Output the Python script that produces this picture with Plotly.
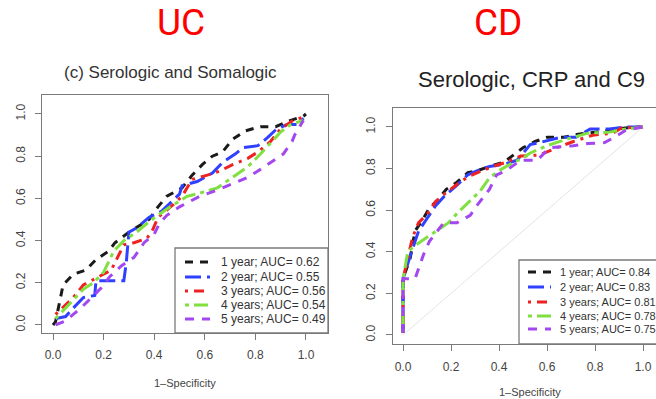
import plotly.graph_objects as go

W, H = 656, 399
FONT = "Liberation Sans, Arial, sans-serif"

# ---------------- data ----------------
series_labels = ["1 year", "2 year", "3 years", "4 years", "5 years"]
uc_auc = ["0.62", "0.55", "0.56", "0.54", "0.49"]
cd_auc = ["0.84", "0.83", "0.81", "0.78", "0.75"]

# UC: Serologic and Somalogic (1-specificity, sensitivity)
uc_1y_x = [0, 0.01, 0.028, 0.04, 0.08, 0.13, 0.17, 0.22, 0.245, 0.30, 0.38, 0.415, 0.45, 0.51, 0.55, 0.59, 0.63, 0.67, 0.71, 0.76, 0.82, 0.88, 0.94, 0.99, 1.0]
uc_1y_y = [0, 0.015, 0.12, 0.19, 0.24, 0.26, 0.31, 0.35, 0.39, 0.44, 0.50, 0.56, 0.61, 0.65, 0.71, 0.76, 0.80, 0.82, 0.88, 0.92, 0.94, 0.94, 0.97, 0.99, 1.0]
uc_2y_x = [0.01, 0.05, 0.08, 0.12, 0.165, 0.17, 0.28, 0.29, 0.30, 0.33, 0.38, 0.43, 0.50, 0.51, 0.57, 0.63, 0.67, 0.72, 0.75, 0.81, 0.85, 0.885, 0.925, 0.965, 0.99]
uc_2y_y = [0.03, 0.04, 0.08, 0.13, 0.14, 0.21, 0.21, 0.30, 0.44, 0.46, 0.51, 0.54, 0.62, 0.66, 0.68, 0.72, 0.77, 0.81, 0.84, 0.85, 0.89, 0.93, 0.95, 0.95, 0.98]
uc_3y_x = [0.01, 0.08, 0.12, 0.18, 0.23, 0.28, 0.32, 0.37, 0.39, 0.415, 0.475, 0.51, 0.55, 0.61, 0.66, 0.71, 0.77, 0.81, 0.86, 0.90, 0.95, 1.0]
uc_3y_y = [0.05, 0.13, 0.19, 0.23, 0.26, 0.38, 0.39, 0.41, 0.44, 0.51, 0.57, 0.61, 0.69, 0.71, 0.73, 0.76, 0.79, 0.82, 0.87, 0.93, 0.97, 0.99]
uc_4y_x = [0.01, 0.075, 0.12, 0.16, 0.20, 0.24, 0.28, 0.33, 0.38, 0.45, 0.50, 0.53, 0.58, 0.65, 0.71, 0.77, 0.82, 0.85, 0.90, 0.94, 0.99]
uc_4y_y = [0.03, 0.11, 0.17, 0.20, 0.25, 0.35, 0.40, 0.44, 0.49, 0.55, 0.59, 0.61, 0.625, 0.65, 0.70, 0.75, 0.81, 0.85, 0.915, 0.95, 0.97]
uc_5y_x = [0.01, 0.05, 0.11, 0.15, 0.19, 0.225, 0.27, 0.32, 0.345, 0.36, 0.40, 0.42, 0.45, 0.50, 0.58, 0.65, 0.71, 0.77, 0.81, 0.86, 0.91, 0.945, 0.955, 0.99]
uc_5y_y = [0.0, 0.02, 0.08, 0.13, 0.175, 0.23, 0.28, 0.32, 0.36, 0.39, 0.43, 0.48, 0.52, 0.56, 0.61, 0.64, 0.67, 0.70, 0.73, 0.77, 0.81, 0.87, 0.90, 0.97]

# CD: Serologic, CRP and C9
cd_1y_x = [0, 0, 0.03, 0.05, 0.08, 0.11, 0.145, 0.18, 0.22, 0.27, 0.31, 0.36, 0.42, 0.455, 0.50, 0.55, 0.60, 0.67, 0.73, 0.80, 0.86, 0.925, 0.99]
cd_1y_y = [0.01, 0.27, 0.37, 0.50, 0.55, 0.61, 0.65, 0.70, 0.73, 0.78, 0.79, 0.81, 0.83, 0.86, 0.90, 0.93, 0.95, 0.95, 0.965, 0.975, 0.985, 0.995, 1.0]
cd_2y_x = [0, 0, 0.03, 0.065, 0.10, 0.135, 0.175, 0.225, 0.27, 0.31, 0.36, 0.42, 0.475, 0.53, 0.57, 0.655, 0.72, 0.78, 0.86, 0.93, 1.0]
cd_2y_y = [0.01, 0.27, 0.38, 0.50, 0.56, 0.62, 0.67, 0.72, 0.77, 0.79, 0.81, 0.82, 0.84, 0.915, 0.925, 0.95, 0.95, 0.99, 0.99, 1.0, 1.0]
cd_3y_x = [0, 0, 0.02, 0.04, 0.065, 0.10, 0.135, 0.175, 0.22, 0.27, 0.32, 0.375, 0.43, 0.49, 0.57, 0.64, 0.71, 0.79, 0.875, 0.91, 1.0]
cd_3y_y = [0.01, 0.27, 0.37, 0.47, 0.54, 0.58, 0.64, 0.68, 0.72, 0.76, 0.785, 0.81, 0.83, 0.86, 0.865, 0.90, 0.93, 0.96, 0.97, 0.995, 1.0]
cd_4y_x = [0, 0, 0.02, 0.05, 0.10, 0.14, 0.19, 0.23, 0.27, 0.32, 0.36, 0.40, 0.46, 0.50, 0.53, 0.60, 0.68, 0.77, 0.86, 0.93, 1.0]
cd_4y_y = [0.01, 0.27, 0.40, 0.43, 0.47, 0.50, 0.54, 0.59, 0.635, 0.69, 0.755, 0.79, 0.83, 0.85, 0.875, 0.91, 0.94, 0.97, 0.975, 0.99, 1.0]
cd_5y_x = [0, 0, 0.05, 0.065, 0.085, 0.11, 0.17, 0.225, 0.28, 0.31, 0.36, 0.39, 0.43, 0.49, 0.56, 0.61, 0.71, 0.77, 0.84, 0.88, 0.93, 1.0]
cd_5y_y = [0.01, 0.27, 0.27, 0.32, 0.385, 0.45, 0.54, 0.54, 0.575, 0.625, 0.70, 0.77, 0.79, 0.84, 0.84, 0.90, 0.91, 0.92, 0.925, 0.95, 0.985, 1.0]

diag_x = [0, 1]
diag_y = [0, 1]

tick_vals = [0.0, 0.2, 0.4, 0.6, 0.8, 1.0]
tick_text = ["0.0", "0.2", "0.4", "0.6", "0.8", "1.0"]

colors = ["#1a1a1a", "#3040ff", "#ee2222", "#7fe040", "#a347f0"]
dashes = ["8px,7px", "16px,6px", "3px,6px,10px,6px", "4px,5px,14px,5px", "9px,8px"]

uc_x = [uc_1y_x, uc_2y_x, uc_3y_x, uc_4y_x, uc_5y_x]
uc_y = [uc_1y_y, uc_2y_y, uc_3y_y, uc_4y_y, uc_5y_y]
cd_x = [cd_1y_x, cd_2y_x, cd_3y_x, cd_4y_x, cd_5y_x]
cd_y = [cd_1y_y, cd_2y_y, cd_3y_y, cd_4y_y, cd_5y_y]


def PX(x):
    return x / W


def PY(y):
    return 1 - y / H


fig = go.Figure()

fig.add_trace(go.Scatter(x=diag_x, y=diag_y, mode="lines", xaxis="x2", yaxis="y2",
                         line=dict(color="#e4e4e4", width=1), showlegend=False, hoverinfo="skip"))

for i in range(5):
    fig.add_trace(go.Scatter(x=uc_x[i], y=uc_y[i], mode="lines", xaxis="x", yaxis="y",
                             line=dict(color=colors[i], width=3, dash=dashes[i]), showlegend=False))
for i in range(5):
    fig.add_trace(go.Scatter(x=cd_x[i], y=cd_y[i], mode="lines", xaxis="x2", yaxis="y2",
                             line=dict(color=colors[i], width=3, dash=dashes[i]), showlegend=False))

axis_common = dict(showgrid=False, zeroline=False, showline=True, linecolor="#7a7a7a", linewidth=1.3,
                   ticks="outside", ticklen=6, tickcolor="#7a7a7a", tickwidth=1.2,
                   tickvals=tick_vals, ticktext=tick_text,
                   tickfont=dict(family=FONT, size=12, color="#444"))

fig.update_layout(
    width=W, height=H, margin=dict(l=0, r=0, t=0, b=0),
    paper_bgcolor="white", plot_bgcolor="white", showlegend=False,
    xaxis=dict(domain=[PX(42), PX(328)], range=[-0.0435, 1.087], anchor="y", mirror=True,
               ticklabelstandoff=4, **axis_common),
    yaxis=dict(domain=[PY(333), PY(95)], range=[-0.038, 1.09], anchor="x", mirror=True,
               tickangle=-90, ticklabelstandoff=5, **axis_common),
    xaxis2=dict(domain=[PX(393), 1.0], range=[-0.0417, 1.054], anchor="y2", mirror=True,
                ticklabelstandoff=5, **axis_common),
    yaxis2=dict(domain=[PY(344), PY(108)], range=[-0.0433, 1.091], anchor="x2", mirror=False,
                tickangle=-90, ticklabelstandoff=6, **axis_common),
)

shapes = []
annotations = []

# legend boxes
shapes.append(dict(type="rect", xref="paper", yref="paper", x0=PX(175), x1=PX(328), y0=PY(333), y1=PY(248),
                   line=dict(color="#7a7a7a", width=1.3), fillcolor="white", layer="above"))
shapes.append(dict(type="rect", xref="paper", yref="paper", x0=PX(519), x1=PX(720), y0=PY(344), y1=PY(260),
                   line=dict(color="#7a7a7a", width=1.3), fillcolor="white", layer="above"))

uc_rows = [262, 277, 291, 305, 319]
cd_rows = [272, 287, 302, 316, 329]
for i in range(5):
    shapes.append(dict(type="line", xref="paper", yref="paper", x0=PX(185), x1=PX(210), y0=PY(uc_rows[i]), y1=PY(uc_rows[i]),
                       line=dict(color=colors[i], width=3, dash=dashes[i]), layer="above"))
    annotations.append(dict(xref="paper", yref="paper", x=PX(219), y=PY(uc_rows[i]), xanchor="left", yanchor="middle",
                            text=f"{series_labels[i]}; AUC= {uc_auc[i]}", showarrow=False,
                            font=dict(family=FONT, size=12, color="#333")))
    shapes.append(dict(type="line", xref="paper", yref="paper", x0=PX(528), x1=PX(551), y0=PY(cd_rows[i]), y1=PY(cd_rows[i]),
                       line=dict(color=colors[i], width=3, dash=dashes[i]), layer="above"))
    annotations.append(dict(xref="paper", yref="paper", x=PX(558), y=PY(cd_rows[i]), xanchor="left", yanchor="middle",
                            text=f"{series_labels[i]}; AUC= {cd_auc[i]}", showarrow=False,
                            font=dict(family=FONT, size=11, color="#333")))

# titles
annotations += [
    dict(xref="paper", yref="paper", x=PX(181), y=PY(22), text="UC", showarrow=False, xanchor="center", yanchor="middle",
         font=dict(family="Roboto, sans-serif", size=37, color="#ff0000")),
    dict(xref="paper", yref="paper", x=PX(498), y=PY(22), text="CD", showarrow=False, xanchor="center", yanchor="middle",
         font=dict(family="Roboto, sans-serif", size=37, color="#ff0000")),
    dict(xref="paper", yref="paper", x=PX(170), y=PY(73), text="(c) Serologic and Somalogic", showarrow=False,
         xanchor="center", yanchor="middle", font=dict(family=FONT, size=17, color="#333")),
    dict(xref="paper", yref="paper", x=PX(531), y=PY(79), text="Serologic, CRP and C9", showarrow=False,
         xanchor="center", yanchor="middle", font=dict(family=FONT, size=22, color="#222")),
    dict(xref="paper", yref="paper", x=PX(185), y=PY(383), text="1\u2013Specificity", showarrow=False,
         xanchor="center", yanchor="middle", font=dict(family=FONT, size=11, color="#444")),
    dict(xref="paper", yref="paper", x=PX(530), y=PY(392), text="1\u2013Specificity", showarrow=False,
         xanchor="center", yanchor="middle", font=dict(family=FONT, size=11, color="#444")),
]

fig.update_layout(shapes=shapes, annotations=annotations)
fig.write_html("out.html")
